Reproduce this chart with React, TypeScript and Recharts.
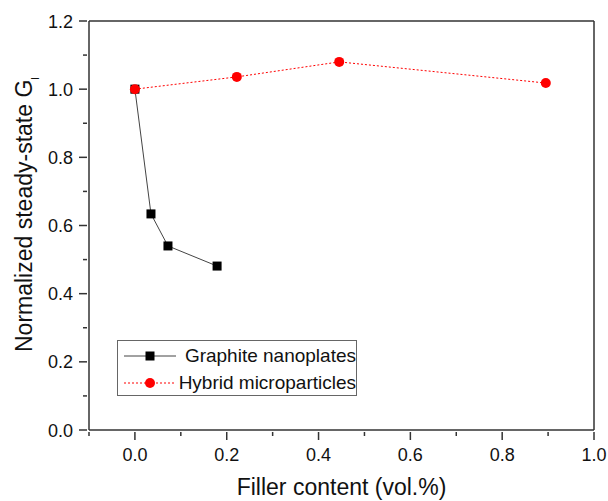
import { LineChart, Line, XAxis, YAxis, ReferenceLine } from "recharts";

const graphiteX = [0, 0.035, 0.072, 0.179];
const graphiteY = [1.0, 0.634, 0.54, 0.481];
const hybridX = [0, 0.222, 0.445, 0.895];
const hybridY = [1.0, 1.036, 1.08, 1.018];

const xTicks = [-0.1, 0, 0.1, 0.2, 0.3, 0.4, 0.5, 0.6, 0.7, 0.8, 0.9, 1.0];
const yTicks = [0, 0.1, 0.2, 0.3, 0.4, 0.5, 0.6, 0.7, 0.8, 0.9, 1.0, 1.1, 1.2];

const graphite = graphiteX.map((x, i) => ({ x, y: graphiteY[i] }));
const hybrid = hybridX.map((x, i) => ({ x, y: hybridY[i] }));

const FONT = "Arial, 'Liberation Sans', sans-serif";
const AXIS = "#333";

const isMajor = (v: number) => Math.abs(Math.round(v * 10)) % 2 === 0;

function XTick({ x, y, payload }: any) {
  const v = payload.value;
  const major = isMajor(v);
  return (
    <g>
      <line x1={x} x2={x} y1={y} y2={y + (major ? 8 : 4)} stroke={AXIS} strokeWidth={1.5} />
      {major && (
        <text x={x} y={y + 29} textAnchor="middle" fontSize={18} fill="#111" fontFamily={FONT}>
          {v.toFixed(1)}
        </text>
      )}
    </g>
  );
}

function YTick({ x, y, payload }: any) {
  const v = payload.value;
  const major = isMajor(v);
  return (
    <g>
      <line x1={x} x2={x - (major ? 8 : 4)} y1={y} y2={y} stroke={AXIS} strokeWidth={1.5} />
      {major && (
        <text x={x - 14} y={y + 6.5} textAnchor="end" fontSize={18} fill="#111" fontFamily={FONT}>
          {v.toFixed(1)}
        </text>
      )}
    </g>
  );
}

function SquareDot({ cx, cy, index }: any) {
  return <rect key={`sq-${index}`} x={cx - 4.5} y={cy - 4.5} width={9} height={9} fill="#000" />;
}

function LegendBox() {
  const row = { display: "flex", alignItems: "center", height: 27, whiteSpace: "nowrap" } as const;
  return (
    <div
      style={{
        position: "absolute",
        left: 117,
        top: 340,
        border: "1px solid #666",
        width: 240,
        height: 56,
        boxSizing: "border-box",
        fontFamily: FONT,
        fontSize: 19,
        color: "#111",
        paddingTop: 1,
      }}
    >
      <div style={row}>
        <svg width={64} height={14} style={{ marginLeft: 4 }}>
          <line x1={2} x2={54} y1={7} y2={7} stroke="#444" strokeWidth={1} />
          <rect x={23.5} y={2.5} width={9} height={9} fill="#000" />
        </svg>
        <span>Graphite nanoplates</span>
      </div>
      <div style={row}>
        <svg width={64} height={14} style={{ marginLeft: 4 }}>
          <line x1={2} x2={54} y1={7} y2={7} stroke="red" strokeWidth={1} strokeDasharray="2 2" />
          <circle cx={28} cy={7} r={5} fill="red" />
        </svg>
        <span>Hybrid microparticles</span>
      </div>
    </div>
  );
}

function YTitle() {
  return (
    <text
      transform="translate(32,352) rotate(-90)"
      textAnchor="start"
      fontSize={23}
      fill="#111"
      fontFamily={FONT}
    >
      Normalized steady-state G
      <tspan fontSize={11} dy={7}>l</tspan>
    </text>
  );
}

function XTitle({ viewBox }: any) {
  return (
    <text
      x={viewBox.x + viewBox.width / 2}
      y={495}
      textAnchor="middle"
      fontSize={23}
      fill="#111"
      fontFamily={FONT}
    >
      Filler content (vol.%)
    </text>
  );
}

export default function App() {
  return (
    <div style={{ position: "absolute", left: 0, top: 0, width: 608, height: 501, background: "#fff" }}>
      <LineChart width={608} height={501} margin={{ top: 21, right: 14, left: 0, bottom: 0 }}>
        <XAxis
          dataKey="x"
          type="number"
          domain={[-0.1, 1.0]}
          ticks={xTicks}
          interval={0}
          allowDataOverflow
          height={71}
          tickSize={0}
          tickLine={false}
          tick={<XTick />}
          axisLine={{ stroke: AXIS, strokeWidth: 1.5 }}
          label={<XTitle />}
        />
        <YAxis
          dataKey="y"
          type="number"
          domain={[0, 1.2]}
          ticks={yTicks}
          interval={0}
          allowDataOverflow
          width={89}
          tickSize={0}
          tickLine={false}
          tick={<YTick />}
          axisLine={{ stroke: AXIS, strokeWidth: 1.5 }}
          label={<YTitle />}
        />
        <ReferenceLine y={1.2} stroke={AXIS} strokeWidth={1.5} />
        <ReferenceLine x={1.0} stroke={AXIS} strokeWidth={1.5} />
        <Line
          data={graphite}
          dataKey="y"
          name="Graphite nanoplates"
          stroke="#444"
          strokeWidth={1}
          dot={<SquareDot />}
          isAnimationActive={false}
        />
        <Line
          data={hybrid}
          dataKey="y"
          name="Hybrid microparticles"
          stroke="red"
          strokeWidth={1}
          strokeDasharray="2 2"
          dot={{ r: 5, fill: "red", stroke: "red", strokeWidth: 0 }}
          isAnimationActive={false}
        />
      </LineChart>
      <LegendBox />
    </div>
  );
}
